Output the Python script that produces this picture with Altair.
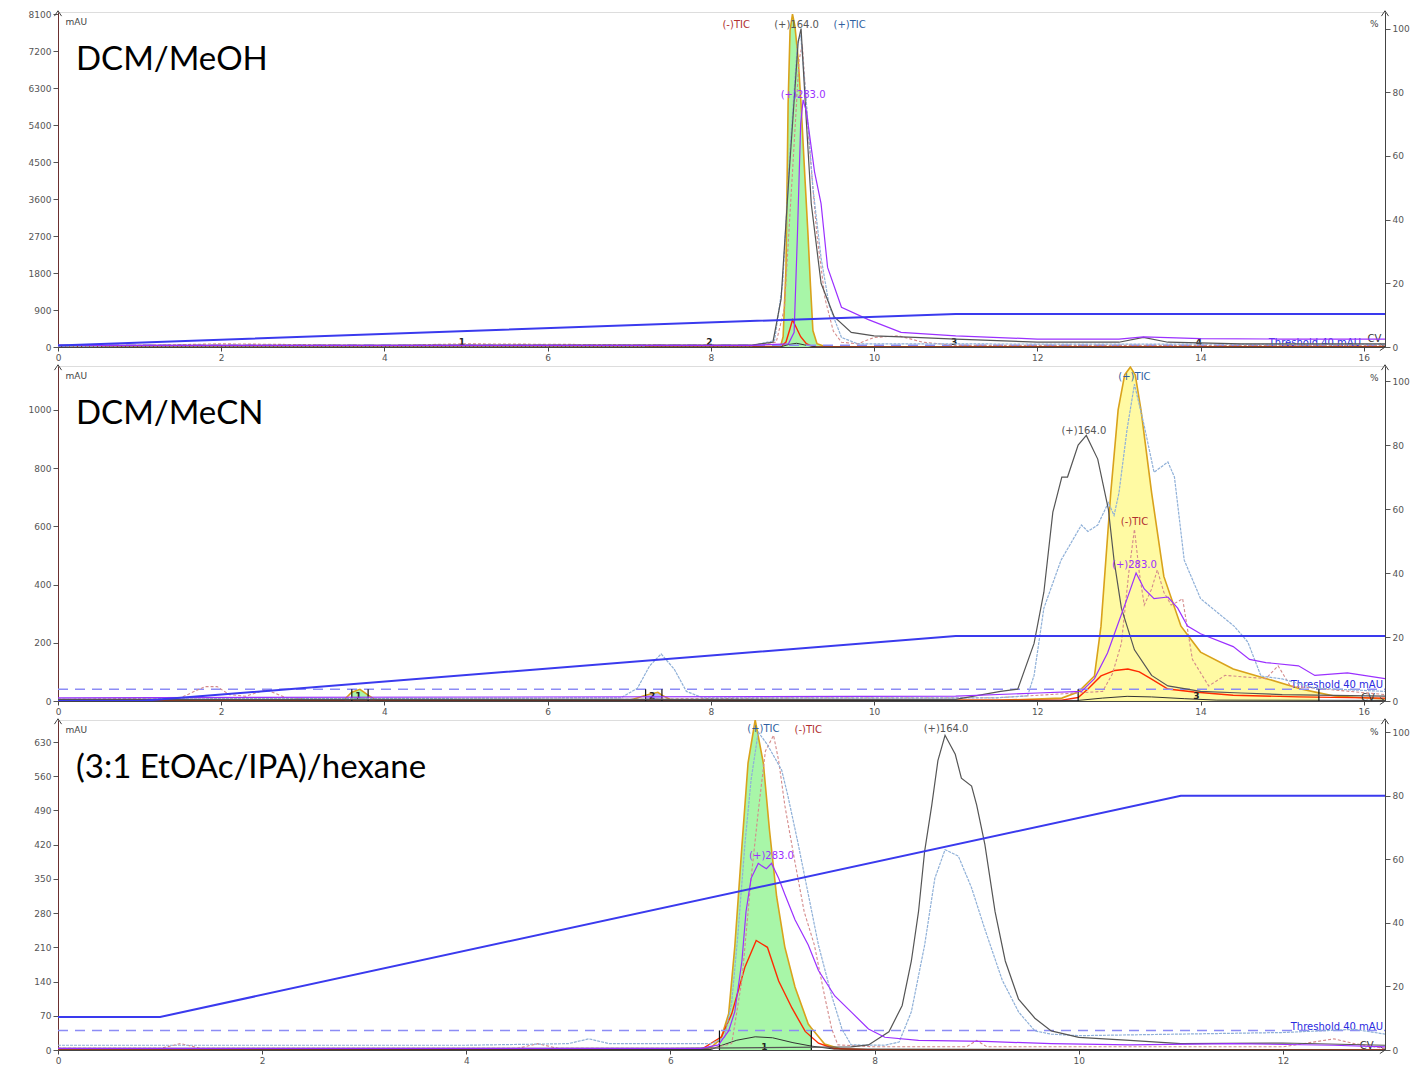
import altair as alt
import pandas as pd

FONT = "DejaVu Sans"
W = 1327
H1, H2, H3 = 335, 335, 330

# ---------------- Panel 1: DCM/MeOH ----------------
p1_title = "DCM/MeOH"
p1_xmax = 16.26
p1_xticks = [0, 2, 4, 6, 8, 10, 12, 14, 16]
p1_ymax = 8150
p1_yticks = [0, 900, 1800, 2700, 3600, 4500, 5400, 6300, 7200, 8100]
p1_rmax = 105.2

p1_uv_t = [0, 8.0, 8.8, 8.86, 8.885, 8.92, 8.946, 8.97, 9.0, 9.03, 9.07, 9.105, 9.15, 9.19, 9.22, 9.25, 9.3, 9.4, 10.0, 16.26]
p1_uv_v = [0, 5, 10, 60, 250, 1900, 5900, 7700, 8100, 7800, 7000, 5900, 4200, 2730, 1500, 400, 80, 10, 5, 5]
p1_frac_start = [8.8]
p1_frac_end = [9.4]
p1_red_t = [0, 8.85, 8.92, 8.97, 9.0, 9.04, 9.1, 9.17, 9.25, 9.4, 16.26]
p1_red_v = [0, 0, 120, 450, 660, 500, 250, 80, 10, 0, 0]
p1_dark_t = [0, 8.85, 8.95, 9.05, 9.15, 9.3, 16.26]
p1_dark_v = [0, 0, 60, 90, 50, 0, 0]
p1_grad_t = [0, 11.0, 16.26]
p1_grad_v = [0.5, 10.4, 10.4]
p1_c164_t = [0, 8.5, 8.76, 8.86, 8.96, 9.07, 9.105, 9.16, 9.23, 9.35, 9.51, 9.72, 10.0, 10.5, 11.0, 12.0, 13.0, 13.3, 13.6, 14.5, 16.26]
p1_c164_v = [0.5, 0.6, 1.5, 15, 55, 96, 100, 75, 45, 20, 9.5, 4.6, 3.5, 3, 2.5, 1.5, 1.5, 3, 1.5, 1, 1]
p1_ptic_t = [0, 8.5, 8.78, 8.88, 8.97, 9.06, 9.1, 9.16, 9.25, 9.35, 9.45, 9.6, 9.8, 16.26]
p1_ptic_v = [0.3, 0.4, 2, 20, 62, 95, 98, 80, 50, 28, 13, 3, 1, 0.8]
p1_ntic_t = [0, 1.0, 2.0, 4.0, 5.0, 8.5, 8.8, 8.9, 9.0, 9.08, 9.12, 9.2, 9.3, 9.4, 9.5, 9.6, 9.8, 10.0, 10.3, 10.6, 11.0, 16.26]
p1_ntic_v = [0.3, 0.5, 1, 0.5, 1, 0.5, 1.5, 12, 55, 90, 95, 65, 35, 15, 5, 1.5, 1, 3, 3.5, 1.5, 0.5, 0.5]
p1_c283_t = [0, 8.5, 8.95, 9.02, 9.06, 9.1, 9.13, 9.17, 9.27, 9.35, 9.43, 9.6, 9.93, 10.33, 11.0, 12.0, 13.0, 13.3, 14.0, 15.0, 16.26]
p1_c283_v = [0.5, 0.5, 1, 4.6, 35, 70, 77.6, 74, 55, 45, 25, 12.5, 8.6, 4.6, 3.5, 2.5, 2.5, 3.2, 2.6, 2.5, 2.5]
p1_lab_text = ["(-)TIC", "(+)164.0", "(+)TIC", "(+)283.0"]
p1_lab_t = [8.31, 9.05, 9.7, 9.13]
p1_lab_v = [101.2, 101.2, 101.2, 79.1]
p1_rules = []
p1_fnum_text = ["1", "2", "3", "4"]
p1_fnum_t = [4.95, 7.98, 10.98, 13.98]
p1_fnum_v = [110, 110, 110, 110]
p1_thr_lab_v = 100
p1_cv_t, p1_cv_v = 16.13, 190

# ---------------- Panel 2: DCM/MeCN ----------------
p2_title = "DCM/MeCN"
p2_xmax = 16.26
p2_xticks = [0, 2, 4, 6, 8, 10, 12, 14, 16]
p2_ymax = 1150.7
p2_yticks = [0, 200, 400, 600, 800, 1000]
p2_rmax = 104.7

p2_uv_t = [0, 3.5, 3.6, 3.7, 3.8, 3.9, 7.0, 7.2, 7.35, 7.4, 7.5, 11.5, 12.3, 12.5, 12.7, 12.78, 12.9, 12.99, 13.07, 13.14, 13.2, 13.27, 13.4, 13.55, 13.76, 14.0, 14.4, 14.83, 15.23, 15.45, 15.64, 16.26]
p2_uv_v = [0, 2, 30, 40, 20, 2, 2, 20, 30, 20, 5, 2, 10, 31, 86, 257, 716, 1000, 1120, 1147, 1120, 1000, 716, 428, 257, 168, 110, 75, 41, 28, 17, 7]
p2_frac_start = [3.6, 7.2, 12.5]
p2_frac_end = [3.8, 7.4, 15.45]
p2_red_t = [0, 12.3, 12.5, 12.62, 12.78, 12.95, 13.11, 13.25, 13.4, 13.6, 13.92, 14.4, 15.2, 16.26]
p2_red_v = [0, 3, 12, 41, 86, 105, 110, 100, 75, 41, 31, 20, 14, 10]
p2_dark_t = [0, 12.5, 12.8, 13.1, 13.4, 13.8, 14.2, 16.26]
p2_dark_v = [0, 2, 10, 16, 14, 8, 3, 2]
p2_grad_t = [0, 1.0, 11.0, 16.26]
p2_grad_v = [0, 0, 20.3, 20.3]
p2_c164_t = [0, 11.0, 11.55, 11.76, 11.96, 12.08, 12.19, 12.3, 12.37, 12.5, 12.6, 12.74, 12.87, 12.94, 13.03, 13.19, 13.4, 13.6, 14.0, 14.5, 15.0, 16.26]
p2_c164_v = [0.5, 0.5, 3, 3.7, 18, 34, 59, 70, 70, 80, 83, 75.6, 60, 44, 29, 16, 8, 4.7, 3, 2.5, 2, 1.5]
p2_ptic_t = [0, 6.9, 7.1, 7.25, 7.39, 7.55, 7.7, 7.9, 11.5, 11.88, 11.96, 12.08, 12.29, 12.54, 12.62, 12.74, 12.87, 12.94, 13.0, 13.1, 13.19, 13.31, 13.43, 13.6, 13.68, 13.8, 14.0, 14.41, 14.58, 14.74, 15.0, 15.4, 16.26]
p2_ptic_v = [0.5, 1, 4, 11, 14.7, 10, 3, 1, 1, 1.6, 8, 29, 44, 55, 53, 55, 62, 58, 65, 85, 99, 86, 71.5, 74.7, 70, 44, 32, 23.4, 18.4, 7.8, 6.9, 4, 3]
p2_ntic_t = [0, 1.5, 1.8, 1.95, 2.1, 2.3, 2.55, 2.8, 3.2, 7.0, 9.0, 11.5, 12.8, 12.92, 13.03, 13.12, 13.19, 13.25, 13.31, 13.4, 13.47, 13.55, 13.64, 13.72, 13.78, 13.9, 14.1, 14.3, 14.8, 14.95, 15.1, 16.26]
p2_ntic_v = [0.5, 1, 4.5, 4.5, 2, 1.5, 3.5, 1, 0.5, 0.5, 1, 1, 3, 8.5, 18, 40, 53.7, 40, 30, 35, 41, 34, 30, 31, 32, 13, 4.7, 8, 7, 11, 4.7, 2]
p2_c283_t = [0, 11.0, 12.0, 12.54, 12.7, 12.86, 12.98, 13.1, 13.21, 13.31, 13.43, 13.6, 13.72, 13.84, 14.0, 14.4, 14.6, 14.8, 15.2, 15.4, 15.8, 16.26]
p2_c283_v = [1, 1.5, 2.5, 3, 7, 15, 23.5, 32, 40, 35, 32, 32.5, 29, 23.4, 21, 17, 13, 12, 11, 8, 8.8, 7]
p2_lab_text = ["(+)TIC", "(+)164.0", "(-)TIC", "(+)283.0"]
p2_lab_t = [13.19, 12.57, 13.19, 13.19]
p2_lab_v = [101.2, 84.4, 55.8, 42.4]
p2_rules = [3.6, 3.8, 7.2, 7.4, 12.5, 15.45]
p2_fnum_text = ["1", "2", "3"]
p2_fnum_t = [3.68, 7.28, 13.95]
p2_fnum_v = [17, 17, 17]
p2_thr_lab_v = 54
p2_cv_t, p2_cv_v = 16.05, 9

# ---------------- Panel 3: (3:1 EtOAc/IPA)/hexane ----------------
p3_title = "(3:1 EtOAc/IPA)/hexane"
p3_xmax = 13.0
p3_xticks = [0, 2, 4, 6, 8, 10, 12]
p3_ymax = 675
p3_yticks = [0, 70, 140, 210, 280, 350, 420, 490, 560, 630]
p3_rmax = 103.8

p3_uv_t = [0, 6.0, 6.3, 6.4, 6.48, 6.5, 6.57, 6.63, 6.7, 6.76, 6.83, 6.91, 6.97, 7.04, 7.12, 7.22, 7.35, 7.38, 7.51, 7.67, 8.0, 13.0]
p3_uv_v = [0, 0, 2, 6, 20, 27, 74, 211, 417, 587, 675, 587, 450, 314, 211, 129, 53, 45, 12, 2, 0, 0]
p3_frac_start = [6.48]
p3_frac_end = [7.38]
p3_red_t = [0, 6.3, 6.5, 6.6, 6.73, 6.84, 6.95, 7.06, 7.19, 7.32, 7.45, 7.6, 8.0, 13.0]
p3_red_v = [0, 1, 27, 74, 170, 224, 210, 141, 86, 38, 14, 3, 0, 0]
p3_dark_t = [0, 6.4, 6.48, 6.65, 6.83, 7.0, 7.2, 7.38, 7.6, 13.0]
p3_dark_v = [0, 1, 8, 20, 27, 25, 15, 8, 2, 0]
p3_grad_t = [0, 1.0, 11.0, 13.0]
p3_grad_v = [10.4, 10.4, 80, 80]
p3_c164_t = [0, 6.0, 7.77, 7.94, 8.14, 8.27, 8.36, 8.43, 8.49, 8.56, 8.62, 8.69, 8.79, 8.85, 8.95, 9.0, 9.08, 9.18, 9.28, 9.41, 9.57, 9.73, 10.0, 10.5, 11.0, 12.0, 13.0]
p3_c164_v = [0.5, 0.5, 1, 1.6, 5.7, 14, 28, 43.5, 62.5, 77, 91, 99, 93, 85.5, 83, 77, 64.7, 43.5, 28, 16, 10, 6, 4, 3, 2, 2.2, 1.5]
p3_ptic_t = [0, 2.0, 4.0, 5.0, 5.2, 5.4, 6.0, 6.4, 6.53, 6.6, 6.66, 6.73, 6.79, 6.86, 6.95, 7.09, 7.15, 7.25, 7.35, 7.45, 7.58, 7.68, 7.77, 8.1, 8.24, 8.36, 8.49, 8.59, 8.69, 8.82, 8.95, 9.08, 9.25, 9.41, 9.57, 9.73, 10.0, 11.0, 12.0, 12.7, 13.0]
p3_ptic_v = [1.5, 1.5, 1.5, 2, 3.5, 2, 2, 2, 4, 15, 36, 65, 85, 100, 96, 88, 80, 65, 49, 33, 17, 6.6, 1.6, 1.5, 2.5, 12, 33, 54, 63, 61, 51, 38, 22, 12, 6, 5, 4.5, 5, 5.5, 6.5, 5]
p3_ntic_t = [0, 1.0, 1.2, 1.4, 4.5, 4.7, 4.9, 6.4, 6.6, 6.7, 6.79, 6.86, 6.93, 7.01, 7.06, 7.12, 7.22, 7.31, 7.41, 7.51, 7.58, 7.64, 8.0, 8.9, 9.0, 9.1, 11.0, 12.0, 12.5, 12.7, 13.0]
p3_ntic_v = [0.5, 0.5, 2, 0.5, 0.5, 2, 0.5, 0.5, 2, 22, 54, 75, 94, 99, 91, 77, 59, 43.5, 33, 17, 6.6, 1.6, 1, 1, 3, 1, 1, 1, 3.5, 2, 0.5]
p3_c283_t = [0, 6.3, 6.47, 6.57, 6.63, 6.7, 6.74, 6.79, 6.86, 6.89, 6.94, 6.99, 7.06, 7.12, 7.22, 7.35, 7.45, 7.61, 7.77, 7.94, 8.1, 8.43, 9.08, 9.73, 10.5, 11.5, 12.5, 13.0]
p3_c283_v = [0.5, 0.5, 1.6, 6, 12, 28, 43.5, 54, 58.7, 58, 57, 58.7, 54, 49, 41, 33, 25, 17, 12, 6.6, 4, 3, 2.7, 2, 1.6, 2, 1.5, 1]
p3_lab_text = ["(+)TIC", "(-)TIC", "(+)164.0", "(+)283.0"]
p3_lab_t = [6.91, 7.35, 8.7, 6.99]
p3_lab_v = [100.9, 100.6, 100.9, 60.9]
p3_rules = [6.48, 7.38]
p3_fnum_text = ["1"]
p3_fnum_t = [6.92]
p3_fnum_v = [6]
p3_thr_lab_v = 47
p3_cv_t, p3_cv_v = 12.82, 8

threshold_mau = 40

# ---------------- styles ----------------
LABEL_COLORS = {"(-)TIC": "#b03030", "(+)164.0": "#555555", "(+)TIC": "#2f5f9f", "(+)283.0": "#9b30ff"}
FILL_COLORS = {"p1": ["#a3f5a3"], "p2": ["#a3f5a3", "#b4b4ff", "#fffa9e"], "p3": ["#a3f5a3"]}
THR_DX = {"p1": -24, "p2": -2, "p3": -2}


def df(t, v):
    return pd.DataFrame({"t": t, "v": v})


def x_enc(xmax, xticks, field="t"):
    return alt.X(f"{field}:Q", scale=alt.Scale(domain=[0, xmax], nice=False, zero=False),
                 axis=alt.Axis(values=xticks, format="d", title=None, grid=False, tickSize=4,
                               labelPadding=2, labelFontSize=9, labelFont=FONT, labelColor="#555",
                               domainColor="#444", tickColor="#444", labelFlush=False))


def yl(ymax, yticks, field="v"):
    return alt.Y(f"{field}:Q", scale=alt.Scale(domain=[0, ymax], nice=False, zero=True),
                 axis=alt.Axis(values=yticks, format="d", title="mAU", titleAngle=0, titleX=7,
                               titleY=9, titleAlign="left", titleBaseline="middle", titleFont=FONT,
                               titleFontSize=9, titleFontWeight="normal", titleColor="#444",
                               grid=False, tickSize=5, labelPadding=2, labelFont=FONT,
                               labelFontSize=9, labelColor="#555", domainColor="#6a3030",
                               tickColor="#555", minExtent=44, maxExtent=44, labelFlush=False))


def yr(rmax, field="v"):
    return alt.Y(f"{field}:Q", scale=alt.Scale(domain=[0, rmax], nice=False, zero=True),
                 axis=alt.Axis(orient="right", values=[0, 20, 40, 60, 80, 100], format="d",
                               title="%", titleAngle=0, titleX=-7, titleY=11, titleAlign="right",
                               titleBaseline="middle", titleFont=FONT, titleFontSize=9,
                               titleFontWeight="normal", titleColor="#444", grid=False, tickSize=5,
                               labelPadding=2, labelFont=FONT, labelFontSize=9, labelColor="#555",
                               domainColor="#444", tickColor="#555", labelFlush=False))


def panel(key, title, xmax, xticks, ymax, yticks, rmax, uv, fs, fe, red, dark, grad,
          c164, ptic, ntic, c283, labs, rules, fnums, thr_lab_v, cv, height):
    X = x_enc(xmax, xticks)
    YL = yl(ymax, yticks)
    YR = yr(rmax)
    uv_df = df(*uv)
    left = []
    for i, (a, b) in enumerate(zip(fs, fe)):
        sub = uv_df[(uv_df.t >= a) & (uv_df.t <= b)]
        left.append(alt.Chart(sub).mark_area(color=FILL_COLORS[key][i], opacity=0.95, clip=True)
                    .encode(x=X, y=YL))
    left.append(alt.Chart(uv_df).mark_line(color="#d9a21b", strokeWidth=1.6, clip=True).encode(x=X, y=YL))
    left.append(alt.Chart(df(*red)).mark_line(color="#ff2a00", strokeWidth=1.4, clip=True).encode(x=X, y=YL))
    left.append(alt.Chart(df(*dark)).mark_line(color="#333333", strokeWidth=1, clip=True).encode(x=X, y=YL))
    left.append(alt.Chart(df([0, xmax], [threshold_mau, threshold_mau]))
                .mark_line(color="#8c8cf5", strokeWidth=1.5, strokeDash=[10, 7]).encode(x=X, y=YL))
    if rules:
        rdf = pd.DataFrame({"t": rules, "v": [0] * len(rules), "v2": [threshold_mau] * len(rules)})
        left.append(alt.Chart(rdf).mark_rule(color="#111", strokeWidth=1.2)
                    .encode(x=X, y=YL, y2="v2:Q"))
    fdf = pd.DataFrame({"t": fnums[1], "v": fnums[2], "label": fnums[0]})
    left.append(alt.Chart(fdf).mark_text(font=FONT, fontSize=9, fontWeight="bold", color="#222")
                .encode(x=X, y=YL, text="label:N"))
    left.append(alt.Chart(pd.DataFrame({"t": [xmax], "v": [thr_lab_v], "label": ["Threshold 40 mAU"]}))
                .mark_text(font=FONT, fontSize=10, color="#2a2ae0", align="right", dx=THR_DX[key])
                .encode(x=X, y=YL, text="label:N"))
    left.append(alt.Chart(pd.DataFrame({"t": [cv[0]], "v": [cv[1]], "label": ["CV"]}))
                .mark_text(font=FONT, fontSize=10, color="#333")
                .encode(x=X, y=YL, text="label:N"))
    left.append(alt.Chart(pd.DataFrame({"label": [title]}))
                .mark_text(font="Lato", fontSize=33, color="#000", align="left", baseline="alphabetic")
                .encode(x=alt.value(18), y=alt.value(58), text="label:N"))
    one = pd.DataFrame({"a": [0]})
    left.append(alt.Chart(one).mark_point(shape="M-0.8,0.7L0,-0.5L0.8,0.7", filled=False,
                                          color="#444", strokeWidth=1, size=80, opacity=1)
                .encode(x=alt.value(0), y=alt.value(1)))
    left.append(alt.Chart(one).mark_point(shape="M-0.8,0.7L0,-0.5L0.8,0.7", filled=False,
                                          color="#444", strokeWidth=1, size=80, opacity=1)
                .encode(x=alt.value(W), y=alt.value(1)))
    left.append(alt.Chart(one).mark_point(shape="M-0.7,-0.8L0.5,0L-0.7,0.8", filled=False,
                                          color="#444", strokeWidth=1, size=80, opacity=1)
                .encode(x=alt.value(W - 2), y=alt.value(height)))

    right = []
    right.append(alt.Chart(df(*ntic)).mark_line(color="#d48a8a", strokeWidth=1.1, strokeDash=[3, 2], clip=True)
                 .encode(x=X, y=YR))
    right.append(alt.Chart(df(*ptic)).mark_line(color="#8fb0d8", strokeWidth=1.2, strokeDash=[3, 1], clip=True)
                 .encode(x=X, y=YR))
    right.append(alt.Chart(df(*c164)).mark_line(color="#555555", strokeWidth=1.2, clip=True)
                 .encode(x=X, y=YR))
    right.append(alt.Chart(df(*c283)).mark_line(color="#9b30ff", strokeWidth=1.2, clip=True)
                 .encode(x=X, y=YR))
    right.append(alt.Chart(df(*grad)).mark_line(color="#3a3aee", strokeWidth=2, clip=True)
                 .encode(x=X, y=YR))
    for txt, tt, vv in zip(*labs):
        right.append(alt.Chart(pd.DataFrame({"t": [tt], "v": [vv], "label": [txt]}))
                     .mark_text(font=FONT, fontSize=10, color=LABEL_COLORS[txt])
                     .encode(x=X, y=YR, text="label:N"))

    return (alt.layer(alt.layer(*left), alt.layer(*right))
            .resolve_scale(y="independent")
            .properties(width=W, height=height))


c1 = panel("p1", p1_title, p1_xmax, p1_xticks, p1_ymax, p1_yticks, p1_rmax,
           (p1_uv_t, p1_uv_v), p1_frac_start, p1_frac_end, (p1_red_t, p1_red_v),
           (p1_dark_t, p1_dark_v), (p1_grad_t, p1_grad_v), (p1_c164_t, p1_c164_v),
           (p1_ptic_t, p1_ptic_v), (p1_ntic_t, p1_ntic_v), (p1_c283_t, p1_c283_v),
           (p1_lab_text, p1_lab_t, p1_lab_v), p1_rules, (p1_fnum_text, p1_fnum_t, p1_fnum_v),
           p1_thr_lab_v, (p1_cv_t, p1_cv_v), H1)
c2 = panel("p2", p2_title, p2_xmax, p2_xticks, p2_ymax, p2_yticks, p2_rmax,
           (p2_uv_t, p2_uv_v), p2_frac_start, p2_frac_end, (p2_red_t, p2_red_v),
           (p2_dark_t, p2_dark_v), (p2_grad_t, p2_grad_v), (p2_c164_t, p2_c164_v),
           (p2_ptic_t, p2_ptic_v), (p2_ntic_t, p2_ntic_v), (p2_c283_t, p2_c283_v),
           (p2_lab_text, p2_lab_t, p2_lab_v), p2_rules, (p2_fnum_text, p2_fnum_t, p2_fnum_v),
           p2_thr_lab_v, (p2_cv_t, p2_cv_v), H2)
c3 = panel("p3", p3_title, p3_xmax, p3_xticks, p3_ymax, p3_yticks, p3_rmax,
           (p3_uv_t, p3_uv_v), p3_frac_start, p3_frac_end, (p3_red_t, p3_red_v),
           (p3_dark_t, p3_dark_v), (p3_grad_t, p3_grad_v), (p3_c164_t, p3_c164_v),
           (p3_ptic_t, p3_ptic_v), (p3_ntic_t, p3_ntic_v), (p3_c283_t, p3_c283_v),
           (p3_lab_text, p3_lab_t, p3_lab_v), p3_rules, (p3_fnum_text, p3_fnum_t, p3_fnum_v),
           p3_thr_lab_v, (p3_cv_t, p3_cv_v), H3)

chart = (alt.vconcat(c1, c2, c3, spacing=19, bounds="flush")
         .resolve_scale(x="independent", y="independent")
         .properties(padding={"left": 5, "top": 0, "right": 2, "bottom": 0})
         .configure_view(stroke=None)
         .configure(background="white"))

chart.save("out.html", embed_options={"renderer": "svg", "actions": False})
